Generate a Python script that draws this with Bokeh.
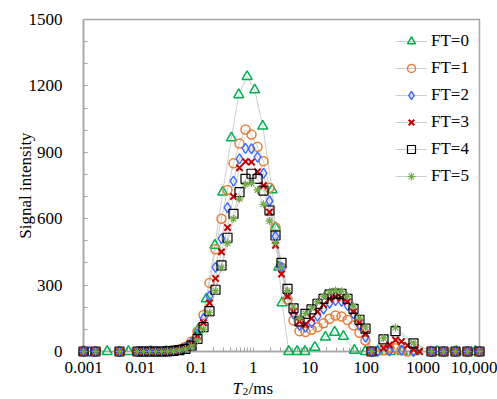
from bokeh.plotting import figure
from bokeh.models import (Range1d, FixedTicker, CustomJSTickFormatter, Legend,
                          LegendItem)
from bokeh.core.properties import value
from bokeh.embed import file_html
from bokeh.resources import INLINE

N = None

# T2 grid (ms) shared by FT=1..5
t2_grid = [0.001, 0.001277, 0.00163, 0.002081, 0.002656, 0.003392, 0.004329, 0.005527, 0.007055, 0.009005,
           0.0115, 0.01468, 0.01874, 0.02392, 0.03054, 0.03899, 0.04977, 0.06353, 0.08111, 0.1035,
           0.1322, 0.1687, 0.2154, 0.275, 0.3511, 0.4482, 0.5722, 0.7305, 0.9326, 1.191,
           1.52, 1.941, 2.477, 3.162, 4.037, 5.154, 6.579, 8.399, 10.72, 13.69,
           17.48, 22.31, 28.48, 36.36, 46.42, 59.26, 75.65, 96.57, 123.3, 157.4,
           200.9, 256.5, 327.4, 418.0, 533.6, 681.3, 869.7, 1110, 1417, 1809,
           2310, 2949, 3765, 4806, 6136, 7833, 10000]

ft1 = [0, N, 0, N, N, N, 0, N, N, 0,
       0, 0, 0, 0, 1, 4, 10, 22, 45, 90,
       165, 310, 462, 600, 730, 850, 940, 1003, 980, 925,
       860, 740, 560, 380, 235, 140, 92, 88, 98, 110,
       128, 148, 163, 158, 142, 118, 85, 50, 0, N,
       6, 14, 15, 7, 0, N, N, N, 0, N,
       0, N, 0, N, 0, N, 0]

ft2 = [0, 0, 0, N, N, N, 0, N, N, 0,
       0, 0, 0, 0, 1, 3, 8, 18, 40, 80,
       150, 250, 380, 510, 650, 770, 870, 918, 916, 878,
       805, 680, 520, 380, 260, 170, 118, 110, 130, 160,
       192, 218, 230, 226, 208, 170, 118, 65, 0, 0,
       N, 3, N, 6, N, 0, N, N, 0, N,
       0, N, 0, N, 0, N, 0]

ft3 = [0, N, 0, N, N, N, 0, N, N, 0,
       0, 0, 0, 0, 1, 3, 8, 17, 35, 70,
       130, 220, 330, 450, 560, 700, 830, 858, 856, 812,
       750, 630, 480, 350, 250, 180, 135, 122, 150, 180,
       212, 238, 246, 242, 225, 180, 130, 80, 0, N,
       15, 30, 52, 45, 28, 10, 0, N, 0, N,
       0, N, 0, N, 0, N, 0]

ft4 = [0, N, 0, N, N, N, 0, N, N, 0,
       0, 0, 0, 0, 1, 3, 6, 12, 27, 57,
       110, 182, 279, 389, 514, 622, 720, 780, 803, 780,
       727, 637, 524, 400, 283, 195, 136, 170, 190, 215,
       238, 258, 262, 260, 238, 193, 143, 103, 0, N,
       55, N, 92, N, N, 37, N, N, 0, N,
       0, N, 0, N, 0, N, 0]

ft5 = [0, N, 0, N, N, N, 0, N, N, 0,
       0, 0, 0, 0, 1, 3, 6, 11, 24, 50,
       100, 175, 275, 380, 490, 600, 690, 755, 760, 730,
       665, 590, 490, 380, 275, 200, 150, 172, 195, 225,
       250, 270, 276, 272, 250, 205, 152, 110, 0, N,
       60, N, 108, N, N, 40, N, N, 0, N,
       0, N, 0, N, 0, N, 0]

# FT=0 was sampled on its own T2 grid
ft0_t2 = [0.001, 0.00262, 0.00624, 0.0153, 0.0292, 0.0405, 0.0561, 0.0777, 0.1076, 0.149,
          0.2105, 0.289, 0.412, 0.555, 0.780, 1.063, 1.472, 2.158, 2.468, 2.823,
          3.24, 4.24, 5.97, 8.19, 12.3, 18.9, 27.5, 39.3, 61.4, 96.0,
          159.6, 265.4, 432.6, 704.7, 1795, 3890, 8434]
ft0 = [0, 0, 0, 0, 0, 2, 8, 30, 100, 238,
       480, 720, 965, 1160, 1242, 1182, 1018, 730, 560, 381,
       220, 0, 0, 0, 19, 65, 87, 68, 5, 0,
       0, 0, 0, 0, 0, 0, 0]

labels = ["FT=0", "FT=1", "FT=2", "FT=3", "FT=4", "FT=5"]
x_ticks = [0.001, 0.01, 0.1, 1, 10, 100, 1000, 10000]
y_ticks = [0, 300, 600, 900, 1200, 1500]

FONT = "Liberation Serif"
GRAY = "#a6a6a6"

p = figure(width=497, height=399, x_axis_type="log",
           x_range=Range1d(0.001, 10000), y_range=Range1d(0, 1500),
           output_backend="svg", toolbar_location=None,
           min_border_left=83, min_border_right=18, min_border_top=19, min_border_bottom=48)
p.grid.visible = False
p.outline_line_color = GRAY
p.outline_line_width = 1.5
p.background_fill_color = "white"
p.border_fill_color = "white"

series = [
    (ft0_t2, ft0, "triangle", "#00B050", 10, 1.5),
    (t2_grid, ft1, "circle", "#ED7D31", 9, 1.5),
    (t2_grid, ft2, "diamond", "#3D6BFF", 10, 1.4),
    (t2_grid, ft3, "x", "#C00000", 9, 2.0),
    (t2_grid, ft4, "square", "#000000", 9, 1.2),
    (t2_grid, ft5, "asterisk", "#70AD47", 8, 1.2),
]

line_rs = []
for xs_all, ys_all, *_ in series:
    xs = [x for x, y in zip(xs_all, ys_all) if y is not None]
    ys = [y for y in ys_all if y is not None]
    line_rs.append(p.line(xs, ys, line_color="#c8c8c8", line_width=0.9))

items = []
for i, (xs_all, ys_all, marker, color, size, lw) in enumerate(series):
    xs = [x for x, y in zip(xs_all, ys_all) if y is not None]
    ys = [y for y in ys_all if y is not None]
    r = p.scatter(xs, ys, marker=marker, size=size, line_color=color,
                  fill_color=None, line_width=lw)
    r.level = "overlay"
    items.append(LegendItem(label=labels[i], renderers=[line_rs[i], r]))

legend = Legend(items=items, location=(312, 165))
legend.label_text_font = FONT
legend.label_text_font_size = "17px"
legend.label_text_color = "black"
legend.glyph_width = 32
legend.glyph_height = 20
legend.label_height = 20
legend.label_standoff = 4
legend.spacing = 7
legend.padding = 10
legend.margin = 0
legend.border_line_color = None
legend.background_fill_alpha = 0
p.add_layout(legend)

xa = p.xaxis[0]
xa.ticker = FixedTicker(ticks=x_ticks,
                        minor_ticks=[m * 10.0 ** e for e in range(-3, 4) for m in range(2, 10)])
xa.formatter = CustomJSTickFormatter(code="return tick >= 10000 ? '10,000' : String(tick);")
ya = p.yaxis[0]
ya.ticker = FixedTicker(ticks=y_ticks, minor_ticks=list(range(0, 1501, 100)))
ya.axis_label = "Signal intensity"
ya.axis_label_text_font = FONT
ya.axis_label_text_font_size = "17px"
ya.axis_label_text_font_style = "normal"
ya.axis_label_text_color = "black"
ya.axis_label_standoff = -9

for ax in (xa, ya):
    ax.axis_line_color = GRAY
    ax.axis_line_width = 1.5
    ax.major_tick_line_color = GRAY
    ax.minor_tick_line_color = GRAY
    ax.major_tick_in = 4
    ax.major_tick_out = 0
    ax.minor_tick_in = 4
    ax.minor_tick_out = 0
    ax.major_label_text_font = FONT
    ax.major_label_text_font_size = "17px"
    ax.major_label_text_color = "black"
xa.major_label_standoff = 10
ya.major_label_standoff = 21

# x-axis title: italic T, subscript 2, "/ms" (drawn below the frame, unclipped)
title_parts = [
    (0.4291, -167.0, "T", "17px", "italic"),
    (0.6549, -180.0, "2", "11px", "normal"),
    (0.8293, -167.0, "/ms", "17px", "normal"),
]
for tx, ty, txt, fs, style in title_parts:
    tr = p.text(x=[tx], y=[ty], text=[txt], text_font=value(FONT), text_font_size=fs,
                text_font_style=style, text_color="black",
                text_baseline="alphabetic", text_align="left")
    tr.level = "overlay"

open("out.html", "w").write(file_html(p, INLINE))
